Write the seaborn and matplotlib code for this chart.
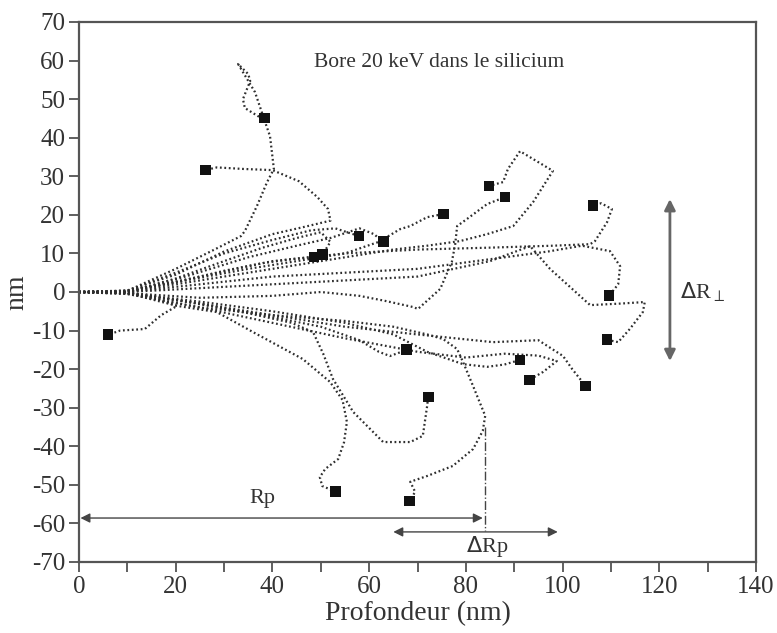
import pandas as pd
import matplotlib
matplotlib.use("Agg")
import matplotlib.pyplot as plt
import seaborn as sns

# ion paths: (depth nm, lateral nm), each ends at the stopped ion
path_01 = [(0, 0), (10, -0.2), (16, -1.8), (20.3, -3.6), (17, -6), (13.6, -9.6), (8.5, -10), (6, -11.1)]
path_02 = [(0, 0), (10, 0.4), (20, 4.5), (30, 10.5), (40, 15), (47, 17), (52, 18.5), (51.5, 21.5),
           (49.3, 24.6), (45.5, 28.7), (40, 31.6), (34, 31.9), (28.5, 32.3), (26.1, 31.6)]
path_03 = [(0, 0), (10, 0.3), (20, 6), (28, 11), (33.5, 14.5), (34.3, 15.8), (36.8, 22.3), (38.9, 28.5),
           (40.3, 31.9), (39.5, 40.4), (38.5, 44), (36.4, 51.8), (32.9, 59.1), (35, 56.5), (35.4, 54.7),
           (33.9, 50), (34.3, 47.7), (37, 45.6), (38.3, 45.1)]
path_04 = [(0, 0), (10, 0.2), (20, 2.5), (30, 5.5), (38, 7.5), (44, 8.5), (48.6, 9.1)]
path_05 = [(0, 0), (10, 0), (20, 3.5), (30, 8), (38, 11.5), (45, 14), (50, 15.5), (52, 13), (51, 11), (50.3, 9.8)]
path_06 = [(0, 0), (10, 0.3), (20, 5), (30, 10), (40, 13.5), (48, 16), (53, 16.5), (57.9, 14.5)]
path_07 = [(0, 0), (10, 0), (22, 4), (35, 9), (45, 12), (52, 14), (58, 16.5), (61, 15), (62.9, 13)]
path_08 = [(0, 0), (10, 0.3), (22, 3), (35, 6), (45, 8), (55, 10), (62, 13), (66.4, 16.3), (68.5, 17.1),
           (72, 19.4), (75.3, 20.2)]
path_09 = [(0, 0), (10, 0), (25, 3), (40, 6), (55, 9), (65, 11), (72, 12), (78.8, 13.2), (84.4, 15),
           (89.8, 17.1), (93.9, 23.3), (98, 31.4), (91.2, 36.5), (88.7, 31.9), (87.7, 28.5), (84.8, 27.5)]
path_10 = [(0, 0), (10, -0.3), (25, -1.5), (40, -1), (50, 0), (58, -1), (63.3, -2.3), (69.1, -3.9),
           (70.1, -4.4), (74.7, 0.8), (77.1, 7.8), (77.8, 12.4), (78.2, 17.1), (80.2, 18.9), (84.4, 22.8),
           (88.1, 24.6)]
path_11 = [(0, 0), (10, 0.2), (25, 4), (40, 8), (55, 10), (70, 11), (85, 11.5), (98, 12), (105.7, 12.4),
           (106.7, 13.2), (109.2, 18.1), (110.2, 21.5), (108, 23), (106.3, 22.5)]
path_12 = [(0, 0), (10, 0), (25, 2), (40, 4), (55, 5), (70, 6), (85, 8.5), (97, 10.5), (104, 12),
           (109.8, 10.6), (111.9, 6.7), (111.5, 2), (109.6, -1)]
path_13 = [(0, 0), (10, 0), (25, 1), (40, 2), (55, 3), (70, 4), (85, 8), (93.3, 11.9), (97.4, 6),
           (105.7, -3.4), (112, -3), (117, -2.6), (116.6, -5.2), (113.9, -9.6), (111.5, -13), (109.2, -12.4)]
path_14 = [(0, 0), (10, -0.3), (25, -3), (40, -6), (55, -9), (70, -11), (85.6, -13), (95, -12.5),
           (100.1, -16.6), (102, -20), (104.8, -24.4)]
path_15 = [(0, 0), (10, -0.5), (25, -4), (40, -8), (55, -12), (70, -15.5), (80, -17), (88, -16),
           (95, -16.5), (98.8, -17.9), (96, -20.7), (93.1, -22.8)]
path_16 = [(0, 0), (10, -0.3), (25, -2.5), (40, -5), (55, -8), (65, -11), (72, -15.5), (79.4, -18.7),
           (84.4, -19.4), (88, -18.8), (91.2, -17.6)]
path_17 = [(0, 0), (10, -0.2), (25, -3), (40, -6.5), (50, -9), (58, -12.5), (62, -15.5), (64.3, -16.6),
           (67.8, -15)]
path_18 = [(0, 0), (10, -0.2), (22, -2.5), (35, -5.5), (44, -8), (48.4, -10.4), (50.5, -16), (52.5, -22.5),
           (56.7, -31.1), (62.9, -38.9), (68.5, -38.9), (71.1, -37.3), (72, -29.5), (72.2, -27.2)]
path_19 = [(0, 0), (10, -0.3), (20.3, -3.6), (28.5, -5.2), (36, -10.4), (46.3, -17.4), (51.9, -23.3),
           (54.5, -28), (55.4, -33.7), (54.8, -39), (53.6, -43.3), (50.9, -45.9), (49.8, -48), (50.3, -50.3),
           (53.1, -51.8)]
path_20 = [(0, 0), (10, -0.5), (25, -4), (40, -6), (55, -7.5), (65, -9), (72, -11), (75.3, -12.2),
           (78.2, -14.8), (79.4, -18.1), (81.5, -24.4), (84, -32.1), (83.5, -36), (81.5, -40.7), (77.3, -45.1),
           (72, -47.7), (68.5, -49.2), (69.5, -51.8), (68.4, -54.2)]

paths = [path_01, path_02, path_03, path_04, path_05, path_06, path_07, path_08, path_09, path_10,
         path_11, path_12, path_13, path_14, path_15, path_16, path_17, path_18, path_19, path_20]

rp = 84
rp_y = -58.6
drp_left, drp_right, drp_y = 65, 99, -62.2
drperp_x, drperp_top, drperp_bottom = 122.2, 24.1, -17.9

rows = []
for i, p in enumerate(paths):
    for k, (x, y) in enumerate(p):
        rows.append({"traj": i, "step": k, "x": x, "y": y})
df = pd.DataFrame(rows)
ends = df.groupby("traj").tail(1)

sns.set_theme(style="ticks")
plt.rcParams["font.family"] = ["Liberation Serif", "DejaVu Serif"]
plt.rcParams["axes.unicode_minus"] = False

fig = plt.figure(figsize=(7.77, 6.33), dpi=100)
ax = fig.add_axes([79 / 777, 71 / 633, 677 / 777, 540 / 633])

sns.lineplot(data=df, x="x", y="y", units="traj", estimator=None, sort=False,
             color="#2e2e2e", linewidth=1.6, linestyle=(0, (0.8, 1.2)), ax=ax, legend=False)
sns.scatterplot(data=ends, x="x", y="y", marker="s", s=60, color="#111111",
                edgecolor="none", ax=ax, legend=False, zorder=5)

arrow = dict(arrowstyle="<|-|>", color="#444444", lw=1.0, mutation_scale=14, shrinkA=0, shrinkB=0)
ax.annotate("", xy=(0.3, rp_y), xytext=(rp - 0.5, rp_y), arrowprops=arrow)
ax.annotate("", xy=(drp_left, drp_y), xytext=(drp_right, drp_y), arrowprops=arrow)
ax.annotate("", xy=(drperp_x, drperp_top), xytext=(drperp_x, drperp_bottom),
            arrowprops=dict(arrowstyle="<|-|>", color="#666666", lw=2.0, mutation_scale=16,
                            shrinkA=0, shrinkB=0))
ax.plot([rp, rp], [-35, -62], color="#444444", lw=1.0, linestyle="-.")

txt = "#333333"
ax.text(38, -53.5, "Rp", fontsize=16, color=txt, ha="center", va="center")
ax.text(84.5, -66, r"$\Delta$Rp", fontsize=16, color=txt, ha="center", va="center")
ax.text(129, 0, r"$\Delta$R$_{\perp}$", fontsize=16, color=txt, ha="center", va="center")
ax.text(74.5, 59.6, "Bore 20 keV dans le silicium", fontsize=15.5, color=txt, ha="center", va="center")

ax.set_xlim(0, 140)
ax.set_ylim(-70, 70)
ax.set_xticks(range(0, 141, 10))
ax.set_xticklabels([str(v) if v % 20 == 0 else "" for v in range(0, 141, 10)])
ax.set_yticks(range(-70, 71, 10))
ax.tick_params(axis="both", direction="out", length=7, width=1.2, color="#444444",
               labelsize=18, labelcolor=txt, pad=3)
ax.set_xlabel("Profondeur (nm)", fontsize=20, color=txt, labelpad=2)
ax.set_ylabel("nm", fontsize=20, color=txt, labelpad=2)
for s in ax.spines.values():
    s.set_color("#555555")
    s.set_linewidth(1.6)

fig.savefig("out.png", dpi=100)
